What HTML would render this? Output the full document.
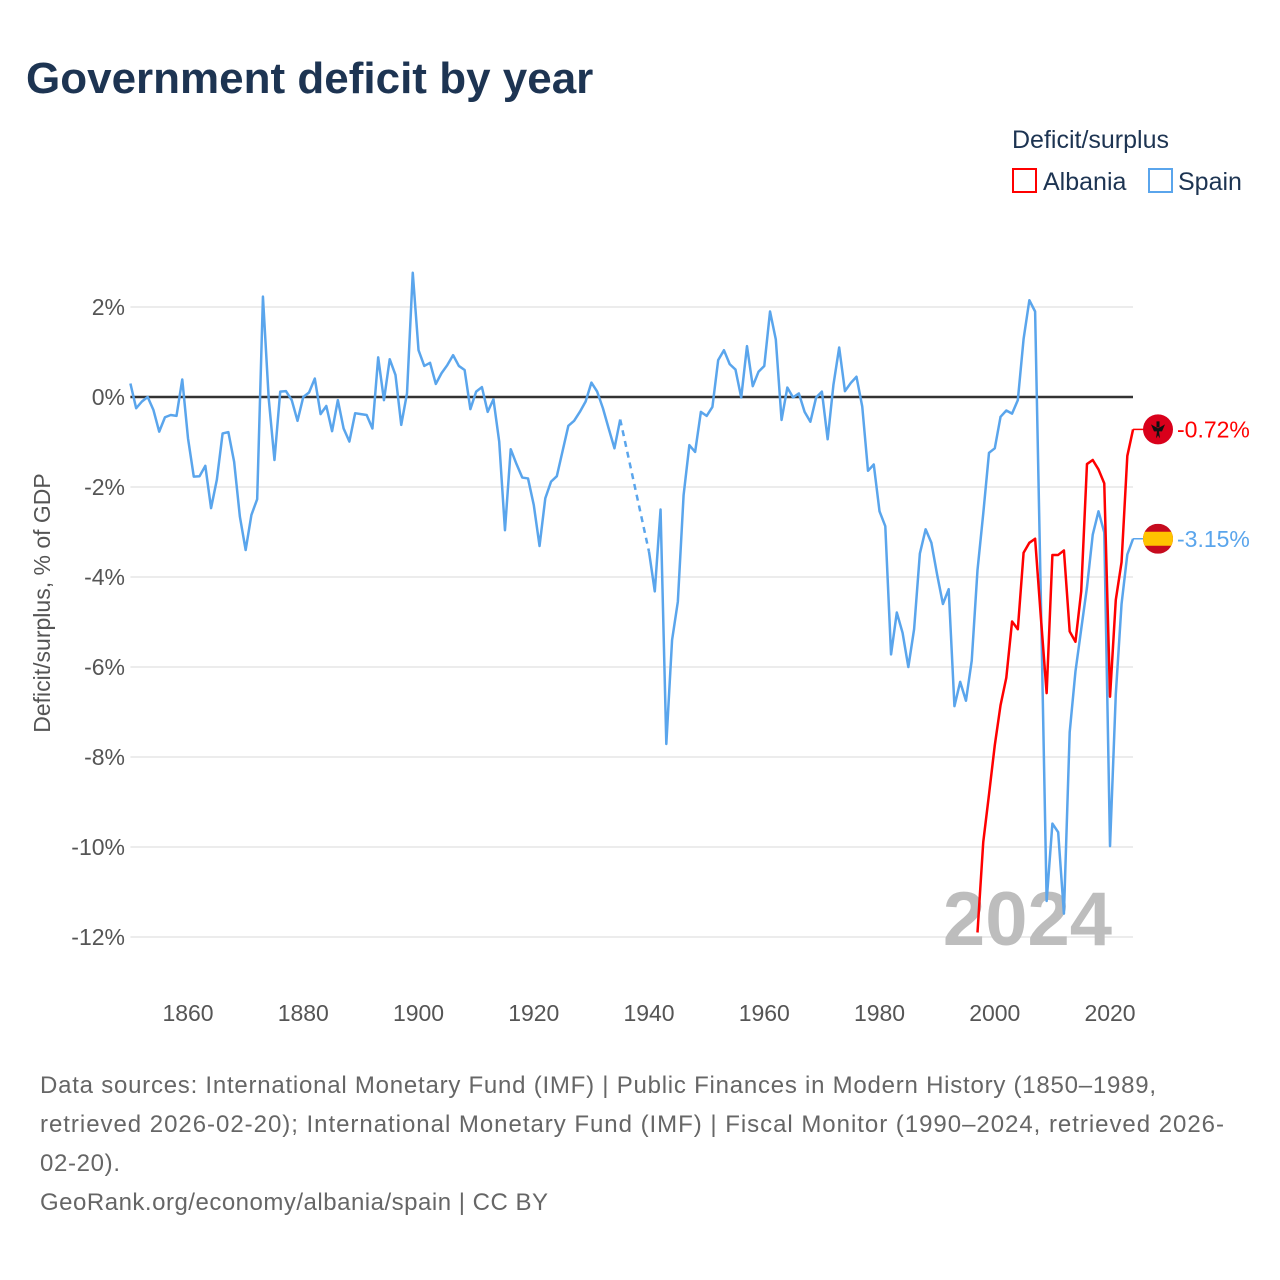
<!DOCTYPE html>
<html><head><meta charset="utf-8">
<style>
body{margin:0;background:#fff;font-family:"Liberation Sans","DejaVu Sans",sans-serif;}
#wrap{position:relative;width:1280px;height:1280px;overflow:hidden;}
</style></head>
<body>
<div id="wrap">
<svg id="svg" width="1280" height="1280" xmlns="http://www.w3.org/2000/svg">
  <text x="26" y="93" font-size="44" font-weight="bold" fill="#1d3452">Government deficit by year</text>
  <text x="1012" y="148" font-size="25" fill="#1d3452">Deficit/surplus</text>
  <g>
    <rect x="1013" y="169" width="23" height="23" fill="none" stroke="#ff0000" stroke-width="2"/>
    <text x="1043" y="190" font-size="25" fill="#1d3452">Albania</text>
  </g>
  <g>
    <rect x="1149" y="169" width="23" height="23" fill="none" stroke="#5aa5ec" stroke-width="2"/>
    <text x="1178" y="190" font-size="25" fill="#1d3452">Spain</text>
  </g>
  <text transform="translate(50,603) rotate(-90)" text-anchor="middle" font-size="23" fill="#555">Deficit/surplus, % of GDP</text>
  <g id="grid"></g>
  <g id="xt"></g>
  <text x="1112" y="945" text-anchor="end" font-size="76" font-weight="bold" fill="#bdbdbd">2024</text>
  <g id="series"></g>
  <g id="ends"></g>
  <text x="40" y="1093" font-size="24" fill="#666" textLength="1116">Data sources: International Monetary Fund (IMF) | Public Finances in Modern History (1850–1989,</text>
  <text x="40" y="1132" font-size="24" fill="#666" textLength="1184">retrieved 2026-02-20); International Monetary Fund (IMF) | Fiscal Monitor (1990–2024, retrieved 2026-</text>
  <text x="40" y="1171" font-size="24" fill="#666" textLength="80">02-20).</text>
  <text x="40" y="1210" font-size="24" fill="#666" textLength="508">GeoRank.org/economy/albania/spain | CC BY</text>
</svg>
</div>
<script>
const yTicks=[2,0,-2,-4,-6,-8,-10,-12];
const xTicks=[1860,1880,1900,1920,1940,1960,1980,2000,2020];
const spainStart=1850;
const spainValues=[0.30,-0.25,-0.10,0.0,-0.29,-0.77,-0.45,-0.40,-0.42,0.39,
-0.92,-1.77,-1.76,-1.53,-2.47,-1.84,-0.81,-0.78,-1.44,-2.66,
-3.40,-2.62,-2.27,2.23,-0.03,-1.40,0.12,0.13,-0.07,-0.53,
0.0,0.10,0.41,-0.38,-0.20,-0.76,-0.07,-0.70,-0.99,-0.36,
-0.38,-0.40,-0.70,0.88,-0.07,0.84,0.49,-0.62,0.08,2.76,
1.04,0.69,0.76,0.29,0.53,0.71,0.93,0.69,0.60,-0.27,
0.12,0.22,-0.33,-0.05,-0.99,-2.96,-1.16,-1.49,-1.79,-1.81,
-2.40,-3.31,-2.25,-1.88,-1.76,-1.20,-0.64,-0.53,-0.33,-0.10,
0.32,0.12,-0.25,-0.70,-1.14,-0.50,null,null,null,null,
-3.44,-4.32,-2.50,-7.71,-5.40,-4.55,-2.18,-1.07,-1.22,-0.33,
-0.42,-0.22,0.82,1.04,0.73,0.61,-0.01,1.13,0.24,0.56,
0.69,1.90,1.28,-0.51,0.21,-0.01,0.08,-0.33,-0.55,-0.01,
0.12,-0.94,0.27,1.10,0.13,0.31,0.45,-0.21,-1.64,-1.50,
-2.54,-2.87,-5.72,-4.79,-5.24,-6.00,-5.16,-3.48,-2.94,-3.24,
-3.95,-4.60,-4.27,-6.87,-6.33,-6.75,-5.86,-3.85,-2.59,-1.24,
-1.14,-0.44,-0.30,-0.37,-0.07,1.29,2.15,1.90,-4.50,-11.2,
-9.48,-9.67,-11.48,-7.45,-6.10,-5.16,-4.23,-3.06,-2.54,-3.01,
-9.98,-6.61,-4.60,-3.50,-3.15];
const albaniaStart=1997;
const albaniaValues=[-11.9,-9.89,-8.83,-7.74,-6.85,-6.24,-4.99,-5.16,-3.46,-3.24,
-3.15,-4.9,-6.58,-3.51,-3.51,-3.41,-5.21,-5.44,-4.32,-1.49,
-1.40,-1.61,-1.92,-6.66,-4.51,-3.67,-1.31,-0.72];

const NS="http://www.w3.org/2000/svg";
const X0=130.4,XR=1133;
function xs(y){return 130.4+(y-1850)*5.7625;}
function ys(v){return 397-45*v;}
function mk(t,a,p){const e=document.createElementNS(NS,t);for(const k in a)e.setAttribute(k,a[k]);p.appendChild(e);return e;}
const grid=document.getElementById('grid');
yTicks.forEach(v=>{
  const l=mk('line',{x1:X0,x2:XR,y1:ys(v),y2:ys(v),stroke:v===0?'#333':'#e6e6e6','stroke-width':v===0?2.5:1.5},grid);
  
  
  const t=mk('text',{x:125,y:ys(v)+8,'text-anchor':'end','font-size':23,fill:'#555'},grid);
  t.textContent=v+'%';
  
  
});
const xt=document.getElementById('xt');
xTicks.forEach(y=>{
  const t=mk('text',{x:xs(y),y:1021,'text-anchor':'middle','font-size':23,fill:'#555'},xt);
  t.textContent=y;
  
  
});
const series=document.getElementById('series');
function draw(start,vals,color,name){
  let segs=[],cur=[],gaps=[],last=null;
  vals.forEach((v,i)=>{
    const yr=start+i;
    if(v===null){if(cur.length){segs.push(cur);cur=[];}return;}
    if(last&&last.i!==i-1&&cur.length===0){gaps.push([last,{yr,v}]);}
    cur.push([xs(yr),ys(v)]);last={i,yr,v};
  });
  if(cur.length)segs.push(cur);
  segs.forEach(s=>{
    const p=mk('polyline',{points:s.map(q=>q.join(',')).join(' '),fill:'none',stroke:color,'stroke-width':2.5,'stroke-linejoin':'round'},series);
    
    
  });
  gaps.forEach(g=>{
    const l=mk('line',{x1:xs(g[0].yr),y1:ys(g[0].v),x2:xs(g[1].yr),y2:ys(g[1].v),stroke:color,'stroke-width':2.5,'stroke-dasharray':'6,5'},series);
    
    
  });
}
draw(spainStart,spainValues,'#5aa5ec','spain');
draw(albaniaStart,albaniaValues,'#ff0000','albania');

const ends=document.getElementById('ends');
function endLabel(start,vals,color,name,flag){
  const v=vals[vals.length-1],x=xs(start+vals.length-1),y=ys(v);
  const l=mk('line',{x1:x,y1:y,x2:1146,y2:y,stroke:color,'stroke-width':1.5},ends);
  
  
  const g=mk('g',{},ends);
  
  
  flag(g,1158,y);
  const t=mk('text',{x:1177,y:y+8,'font-size':23,fill:color},ends);
  t.textContent=v.toFixed(2)+'%';
  
  
}
endLabel(albaniaStart,albaniaValues,'#ff0000','albania',(g,cx,cy)=>{
  mk('circle',{cx,cy,r:15,fill:'#d9001b'},g);
  mk('path',{d:`M${cx-7} ${cy-5} L${cx} ${cy-1} L${cx+7} ${cy-5} L${cx+4} ${cy+2} L${cx+1} ${cy+2} L${cx+2} ${cy+9} L${cx} ${cy+6} L${cx-2} ${cy+9} L${cx-1} ${cy+2} L${cx-4} ${cy+2} Z M${cx-1.5} ${cy-8} h3 v6 h-3 Z`,fill:'#111'},g);
});
endLabel(spainStart,spainValues,'#5aa5ec','spain',(g,cx,cy)=>{
  const cp=mk('clipPath',{id:'cpS'},g);
  mk('circle',{cx,cy,r:15},cp);
  mk('rect',{x:cx-15,y:cy-15,width:30,height:30,fill:'#c60b1e','clip-path':'url(#cpS)'},g);
  mk('rect',{x:cx-15,y:cy-7,width:30,height:14,fill:'#ffc400','clip-path':'url(#cpS)'},g);
});
</script>
</body></html>
